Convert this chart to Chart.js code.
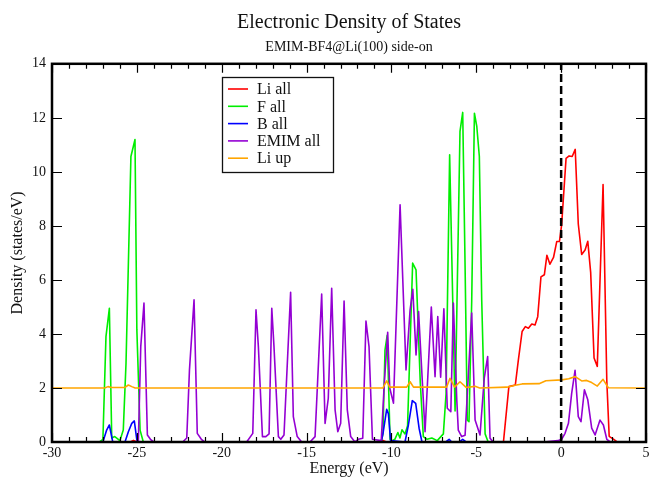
<!DOCTYPE html>
<html>
<head>
<meta charset="utf-8">
<script src="https://cdn.jsdelivr.net/npm/chart.js@4"></script>
<style>
  body { margin: 0; background: #fff; }
  canvas { display: block; }
</style>
</head>
<body>
<canvas id="dosChart" width="649" height="479"></canvas>
<script>
// values (energy in eV, density in states/eV)
const liAllX = [-30, -25.4, -25.2, -25.0, -10.7, -10.5, -10.3, -3.4, -3.08, -2.7, -2.52, -2.3, -2.11, -1.93, -1.73, -1.54, -1.38, -1.19, -0.99, -0.84, -0.66, -0.45, -0.26, -0.1, 0.03, 0.29, 0.47, 0.65, 0.83, 1.01, 1.21, 1.41, 1.57, 1.74, 1.94, 2.13, 2.47, 2.69, 2.83, 3.1, 3.3, 5];
const liAllY = [0, 0, 0.06, 0, 0, 0.06, 0, 0, 2.05, 2.11, 3.04, 4.09, 4.27, 4.21, 4.37, 4.33, 4.64, 6.11, 6.19, 6.91, 6.58, 6.83, 7.42, 7.42, 8.05, 10.5, 10.59, 10.57, 10.83, 8.07, 6.94, 7.11, 7.43, 6.28, 3.11, 2.8, 9.53, 2.27, 0.21, 0.1, 0, 0];

const fAllX = [-30, -27.2, -27.0, -26.82, -26.62, -26.48, -26.3, -26.0, -25.8, -25.64, -25.35, -25.11, -25.0, -24.81, -24.62, -10.6, -10.5, -10.38, -10.25, -10.08, -9.95, -9.8, -9.62, -9.5, -9.38, -9.2, -9.05, -8.75, -8.55, -8.3, -8.12, -7.9, -7.62, -7.3, -6.94, -6.78, -6.57, -6.25, -5.96, -5.8, -5.66, -5.53, -5.43, -5.27, -5.11, -4.97, -4.82, -4.68, -4.48, -4.3, 5];
const fAllY = [0, 0, 0.1, 3.9, 4.95, 0.15, 0.2, 0.05, 0.44, 2.9, 10.57, 11.2, 4.15, 0.44, 0, 0, 0.3, 3.4, 3.95, 0.1, 0.05, 0.1, 0.35, 0.15, 0.45, 0.3, 0.6, 6.62, 6.37, 2.2, 0.2, 0.1, 0.15, 0.05, 0.3, 1.8, 10.63, 1.15, 11.5, 12.2, 6.5, 0.81, 0.75, 5.2, 12.17, 11.68, 10.57, 5.26, 0.3, 0, 0];

const bAllX = [-30, -27.0, -26.78, -26.62, -26.42, -25.7, -25.5, -25.3, -25.15, -25.0, -24.85, -10.6, -10.48, -10.28, -10.18, -10.05, -9.2, -9.0, -8.77, -8.57, -8.37, -8.2, -6.8, -6.6, -6.45, -6.0, -5.8, -5.6, 5];
const bAllY = [0, 0, 0.44, 0.63, 0, 0, 0.38, 0.69, 0.78, 0.07, 0, 0, 0.38, 1.21, 1.05, 0.05, 0, 0.63, 1.53, 1.43, 0.51, 0, 0, 0.1, 0, 0, 0.1, 0, 0];

const emimAllX = [-30, -25.1, -24.91, -24.77, -24.58, -24.38, -24.2, -24.0, -22.3, -22.06, -21.9, -21.63, -21.44, -21.2, -21.0, -18.53, -18.17, -17.98, -17.84, -17.6, -17.4, -17.21, -17.05, -16.92, -16.66, -16.52, -16.33, -15.94, -15.78, -15.55, -15.29, -14.8, -14.5, -14.11, -13.91, -13.72, -13.52, -13.32, -13.16, -12.99, -12.79, -12.6, -12.4, -12.15, -11.95, -11.69, -11.5, -11.32, -11.12, -10.6, -10.42, -10.22, -10.1, -9.88, -9.49, -9.14, -8.9, -8.74, -8.55, -8.4, -8.02, -7.65, -7.43, -7.27, -7.1, -6.91, -6.71, -6.5, -6.35, -6.15, -6.06, -5.86, -5.66, -5.27, -5.07, -4.78, -4.53, -4.33, -4.19, -4.0, -1.0, -0.2, 0.03, 0.23, 0.43, 0.62, 0.82, 1.01, 1.17, 1.37, 1.57, 1.8, 2.0, 2.29, 2.49, 2.69, 2.9, 5];
const emimAllY = [0, 0, 0.07, 3.53, 5.14, 0.26, 0.1, 0, 0, 0.15, 2.67, 5.26, 0.32, 0.1, 0, 0, 0.32, 4.89, 3.53, 0.2, 0.2, 0.3, 4.95, 3.53, 0.2, 0.1, 0.26, 5.54, 0.94, 0.2, 0, 0, 0.2, 5.48, 0.69, 1.62, 5.69, 1.19, 0.38, 0.69, 5.22, 1.19, 0.2, 0, 0.1, 0.14, 4.48, 3.53, 0.1, 0.05, 2.17, 4.06, 2.0, 1.44, 8.78, 2.67, 4.89, 5.65, 3.22, 4.83, 0.38, 5.0, 2.42, 4.64, 2.4, 4.93, 1.25, 1.12, 5.14, 1.56, 0.44, 0.2, 0.25, 4.77, 0.81, 0.26, 2.36, 3.16, 0.14, 0, 0, 0.05, 0.1, 0.32, 0.69, 1.8, 2.65, 0.94, 0.75, 1.93, 1.56, 0.51, 0.26, 0.81, 0.63, 0.1, 0, 0];

const liUpX = [-30, -26.9, -26.7, -26.5, -25.7, -25.5, -25.3, -25.1, -10.5, -10.28, -10.1, -9.1, -8.9, -8.7, -6.75, -6.55, -6.28, -5.96, -5.6, -5.07, -4.8, -3.2, -2.7, -2.3, -1.3, -0.9, 0.03, 0.45, 0.83, 1.21, 1.5, 1.8, 2.13, 2.47, 2.78, 5];
const liUpY = [2.0, 2.0, 2.05, 2.02, 2.02, 2.11, 2.05, 2.0, 2.0, 2.26, 2.03, 2.03, 2.23, 2.03, 2.03, 2.36, 2.03, 2.23, 2.02, 2.06, 2.0, 2.03, 2.1, 2.15, 2.16, 2.27, 2.3, 2.34, 2.42, 2.26, 2.28, 2.2, 2.07, 2.32, 2.01, 2.0];

const fermiX = [0, 0];
const fermiY = [0, 14];

const xTicksMajor = [-30, -25, -20, -15, -10, -5, 0, 5];
const yTicksMajor = [0, 2, 4, 6, 8, 10, 12, 14];

const serif = "'Liberation Serif', 'Times New Roman', serif";

function points(xs, ys) {
    return xs.map((x, i) => ({ x: x, y: ys[i] }));
}

function series(label, xs, ys, color, order) {
    return {
        label: label,
        data: points(xs, ys),
        borderColor: color,
        backgroundColor: color,
        borderWidth: 1.6,
        borderJoinStyle: "round",
        pointRadius: 0,
        tension: 0,
        fill: false,
        order: order
    };
}

// box with the series names, drawn inside the plot like the original
const legendBox = {
    id: "legendBox",
    afterDatasetsDraw(chart) {
        const ctx = chart.ctx;
        const items = chart.data.datasets.filter(d => d.label);
        ctx.save();
        ctx.fillStyle = "#fff";
        ctx.fillRect(222, 77, 111, 95);
        ctx.strokeStyle = "#111";
        ctx.lineWidth = 1.3;
        ctx.strokeRect(222.5, 77.5, 111, 95);
        ctx.font = "16px " + serif;
        ctx.textBaseline = "middle";
        items.forEach((d, i) => {
            const y = 89 + i * 17.3;
            ctx.strokeStyle = d.borderColor;
            ctx.lineWidth = 1.6;
            ctx.beginPath();
            ctx.moveTo(228, y);
            ctx.lineTo(248, y);
            ctx.stroke();
            ctx.fillStyle = "#111";
            ctx.fillText(d.label, 257, y + 1);
        });
        ctx.restore();
    }
};

// frame with inward ticks on all four sides
const frameTicks = {
    id: "frameTicks",
    afterDatasetsDraw(chart) {
        const ctx = chart.ctx;
        const a = chart.chartArea;
        const xs = chart.scales.x;
        const ys = chart.scales.y;
        ctx.save();
        ctx.strokeStyle = "#000";
        ctx.lineWidth = 1.2;
        ctx.beginPath();
        for (let v = -30; v <= 5; v++) {
            const px = Math.round(xs.getPixelForValue(v)) + 0.5;
            const len = xTicksMajor.includes(v) ? 9 : 5;
            ctx.moveTo(px, a.bottom);
            ctx.lineTo(px, a.bottom - len);
            ctx.moveTo(px, a.top);
            ctx.lineTo(px, a.top + len);
        }
        yTicksMajor.forEach(v => {
            const py = Math.round(ys.getPixelForValue(v)) + 0.5;
            ctx.moveTo(a.left, py);
            ctx.lineTo(a.left + 10, py);
            ctx.moveTo(a.right, py);
            ctx.lineTo(a.right - 10, py);
        });
        ctx.stroke();
        ctx.lineWidth = 2.5;
        ctx.strokeRect(a.left, a.top, a.right - a.left, a.bottom - a.top);
        ctx.restore();
    }
};

const ctx = document.getElementById("dosChart").getContext("2d");
const dosChart = new Chart(ctx, {
    type: "line",
    data: {
        datasets: [
            series("Li all", liAllX, liAllY, "#ff0000", 5),
            series("F all", fAllX, fAllY, "#00ee00", 4),
            series("B all", bAllX, bAllY, "#0000ff", 3),
            series("EMIM all", emimAllX, emimAllY, "#9400d3", 2),
            series("Li up", liUpX, liUpY, "#ffa500", 1),
            {
                label: "",
                data: points(fermiX, fermiY),
                borderColor: "#000",
                borderWidth: 2.5,
                borderDash: [8, 4],
                pointRadius: 0,
                fill: false,
                order: 0
            }
        ]
    },
    options: {
        responsive: false,
        animation: false,
        devicePixelRatio: 1,
        layout: { padding: { left: 0, right: 3, top: 0, bottom: 0 } },
        plugins: {
            legend: { display: false },
            tooltip: { enabled: false },
            title: {
                display: true,
                text: "Electronic Density of States",
                color: "#111",
                fullSize: false,
                font: { family: serif, size: 20, weight: "normal" },
                padding: { top: 10.5, bottom: 2 }
            },
            subtitle: {
                display: true,
                text: "EMIM-BF4@Li(100) side-on",
                color: "#111",
                fullSize: false,
                font: { family: serif, size: 14, weight: "normal" },
                padding: { top: 2, bottom: 8.5 }
            }
        },
        scales: {
            x: {
                type: "linear",
                position: "bottom",
                min: -30,
                max: 5,
                grid: { display: false, drawTicks: false },
                border: { display: false },
                ticks: {
                    stepSize: 5,
                    padding: 2.5,
                    color: "#111",
                    font: { family: serif, size: 14 }
                },
                title: {
                    display: true,
                    text: "Energy (eV)",
                    color: "#111",
                    font: { family: serif, size: 16 },
                    padding: { top: 0, bottom: 0.5 }
                },
                afterFit: scale => {
                    scale.height = 37;
                    scale.paddingLeft = 0;
                    scale.paddingRight = 0;
                }
            },
            y: {
                min: 0,
                max: 14,
                grid: { display: false, drawTicks: false },
                border: { display: false },
                ticks: {
                    stepSize: 2,
                    padding: 6,
                    color: "#111",
                    font: { family: serif, size: 14 }
                },
                title: {
                    display: true,
                    text: "Density (states/eV)",
                    color: "#111",
                    font: { family: serif, size: 16 },
                    padding: { top: 8.5, bottom: 0 }
                },
                afterFit: scale => { scale.width = 52; }
            }
        }
    },
    plugins: [frameTicks, legendBox]
});
</script>
</body>
</html>
